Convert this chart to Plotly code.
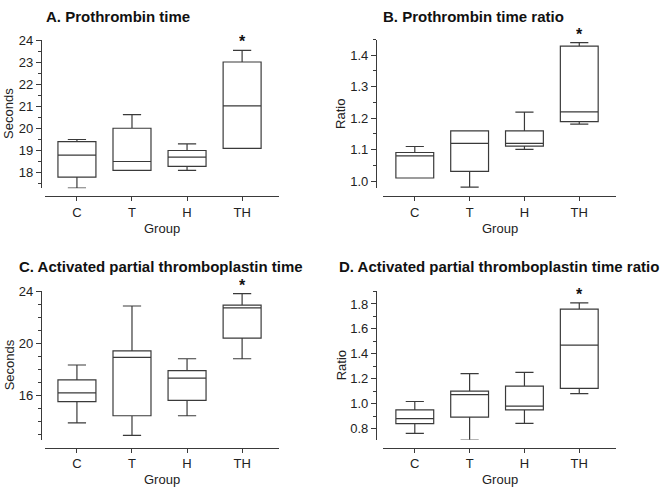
import plotly.graph_objects as go

GROUPS = ["C", "T", "H", "TH"]

# A. Prothrombin time (seconds)
PT_LOW = [17.28, 18.09, 18.09, 19.09]
PT_Q1 = [17.78, 18.09, 18.27, 19.09]
PT_MED = [18.78, 18.49, 18.69, 21.02]
PT_Q3 = [19.39, 20.0, 18.99, 23.01]
PT_HIGH = [19.49, 20.62, 19.29, 23.54]

# B. Prothrombin time ratio
PTR_LOW = [1.01, 0.981, 1.101, 1.181]
PTR_Q1 = [1.01, 1.031, 1.111, 1.189]
PTR_MED = [1.08, 1.12, 1.12, 1.22]
PTR_Q3 = [1.091, 1.16, 1.16, 1.429]
PTR_HIGH = [1.11, 1.16, 1.219, 1.44]

# C. Activated partial thromboplastin time (seconds)
APTT_LOW = [13.9, 12.93, 14.44, 18.82]
APTT_Q1 = [15.52, 14.44, 15.62, 20.4]
APTT_MED = [16.2, 18.92, 17.33, 22.72]
APTT_Q3 = [17.2, 19.42, 17.91, 22.94]
APTT_HIGH = [18.34, 22.87, 18.82, 23.82]

# D. Activated partial thromboplastin time ratio
APTTR_LOW = [0.761, 0.708, 0.842, 1.08]
APTTR_Q1 = [0.839, 0.892, 0.949, 1.122]
APTTR_MED = [0.879, 1.072, 0.98, 1.47]
APTTR_Q3 = [0.949, 1.10, 1.14, 1.758]
APTTR_HIGH = [1.017, 1.24, 1.25, 1.808]

W, H = 660, 490
FONT = "Arial, Liberation Sans, sans-serif"
INK = "#222222"
LINE = "#3a3a3a"


def px(x):
    return x / W


def py(y):
    return 1 - y / H


panels = [
    dict(title="A. Prothrombin time", ytitle="Seconds",
         data=(PT_LOW, PT_Q1, PT_MED, PT_Q3, PT_HIGH),
         x0=45, x1=279, y0=33, y1=184, yax=41, xax=192,
         yrange=[17.27, 24.03], dtick=1, tick0=18, minor=0.5, fmt="d",
         tx=44, ty=10, ytx=9, gy=225),
    dict(title="B. Prothrombin time ratio", ytitle="Ratio",
         data=(PTR_LOW, PTR_Q1, PTR_MED, PTR_Q3, PTR_HIGH),
         x0=383, x1=616, y0=33, y1=184, yax=376, xax=192,
         yrange=[0.977, 1.45], dtick=0.1, tick0=1.0, minor=0.05, fmt=".1f",
         tx=381, ty=10, ytx=341, gy=225),
    dict(title="C. Activated partial thromboplastin time", ytitle="Seconds",
         data=(APTT_LOW, APTT_Q1, APTT_MED, APTT_Q3, APTT_HIGH),
         x0=45, x1=279, y0=288, y1=439, yax=41, xax=447,
         yrange=[12.6, 24.03], dtick=4, tick0=16, minor=1, fmt="d",
         tx=17, ty=263, ytx=9, gy=479),
    dict(title="D. Activated partial thromboplastin time ratio", ytitle="Ratio",
         data=(APTTR_LOW, APTTR_Q1, APTTR_MED, APTTR_Q3, APTTR_HIGH),
         x0=383, x1=616, y0=288, y1=439, yax=376, xax=447,
         yrange=[0.71, 1.905], dtick=0.2, tick0=0.8, minor=0.1, fmt=".1f",
         tx=337, ty=263, ytx=341, gy=479),
]

fig = go.Figure()
annotations = []
layout = {}

for i, p in enumerate(panels, start=1):
    sfx = "" if i == 1 else str(i)
    low, q1, med, q3, high = p["data"]
    fig.add_trace(go.Box(
        x=GROUPS, lowerfence=low, q1=q1, median=med, q3=q3, upperfence=high,
        xaxis="x" + sfx, yaxis="y" + sfx,
        width=0.69, whiskerwidth=0.48,
        fillcolor="white", line=dict(color=LINE, width=1.2),
        boxpoints=False, showlegend=False, hoverinfo="y",
    ))
    layout["xaxis" + sfx] = dict(
        domain=[px(p["x0"]), px(p["x1"])], anchor="free", position=py(p["xax"]),
        type="category", categoryorder="array", categoryarray=GROUPS,
        range=[-0.58, 3.67], showline=True, linecolor=LINE, linewidth=1.2,
        ticks="outside", ticklen=4, tickcolor=LINE, showgrid=False, zeroline=False,
        tickfont=dict(size=13, color=INK, family=FONT),
    )
    layout["yaxis" + sfx] = dict(
        domain=[py(p["y1"]), py(p["y0"])], anchor="free", position=px(p["yax"]),
        range=p["yrange"], tick0=p["tick0"], dtick=p["dtick"],
        tickformat=p["fmt"], showline=True, linecolor=LINE, linewidth=1.2,
        ticks="outside", ticklen=5, tickcolor=LINE, showgrid=False, zeroline=False,
        minor=dict(dtick=p["minor"], tick0=p["tick0"], ticks="outside", ticklen=3,
                   tickcolor=LINE, showgrid=False),
        tickfont=dict(size=13, color=INK, family=FONT),
    )
    # panel title
    annotations.append(dict(
        text="<b>%s</b>" % p["title"], xref="paper", yref="paper",
        x=px(p["tx"]), y=py(p["ty"]), xanchor="left", yanchor="middle",
        showarrow=False, font=dict(size=15, color="#111111", family=FONT),
    ))
    # y-axis title
    annotations.append(dict(
        text=p["ytitle"], xref="paper", yref="paper", textangle=-90,
        x=px(p["ytx"]), y=py((p["y0"] + p["y1"]) / 2), xanchor="center", yanchor="middle",
        showarrow=False, font=dict(size=13, color=INK, family=FONT),
    ))
    # x-axis title
    annotations.append(dict(
        text="Group", xref="paper", yref="paper",
        x=px((p["x0"] + p["x1"]) / 2), y=py(p["gy"]), xanchor="center", yanchor="middle",
        showarrow=False, font=dict(size=13, color=INK, family=FONT),
    ))
    # significance marker above TH (box trimmed to the glyph, which sits high in the line)
    annotations.append(dict(
        text="<b>*</b>", xref="x" + sfx, yref="y" + sfx,
        x="TH", y=high[3], xanchor="center", yanchor="bottom", yshift=3,
        height=12, valign="top",
        showarrow=False, font=dict(size=16, color="#111111", family=FONT),
    ))

fig.update_layout(
    width=W, height=H, margin=dict(l=0, r=0, t=0, b=0),
    paper_bgcolor="white", plot_bgcolor="white",
    font=dict(family=FONT, color=INK),
    annotations=annotations, **layout,
)

# page body has a default margin; drop it so the 660x490 figure fills the window
fig.write_html("out.html", config={"displayModeBar": False},
               post_script="document.body.style.margin='0px';")
